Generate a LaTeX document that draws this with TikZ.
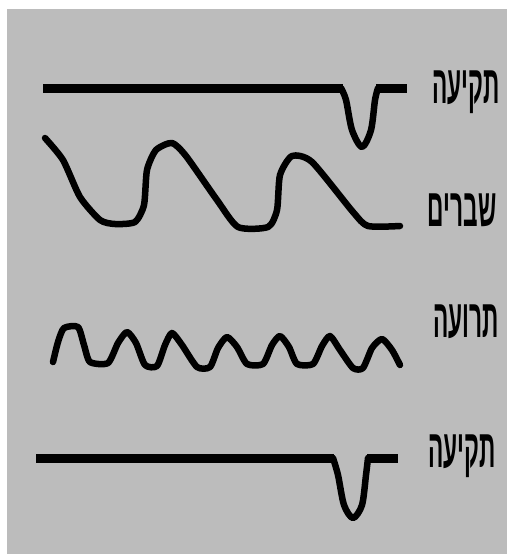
\documentclass[tikz,border=0pt]{standalone}
\usepackage{fontspec}
\newfontfamily\hebfont[Script=Hebrew]{Liberation Sans}
\TeXXeTstate=1
\definecolor{bg}{HTML}{BCBCBC}
\tikzstyle{ln}=[line width=6.5pt, line cap=round, line join=round]
\tikzstyle{flat}=[line width=9pt]
\tikzstyle{lbl}=[anchor=base, inner sep=0, font=\hebfont\bfseries\fontsize{54}{54}\selectfont]
\newcommand{\heb}[1]{\scalebox{.42}[1]{\beginR #1\endR}}

\begin{document}
\begin{tikzpicture}[x=1pt, y=-1pt]
\useasboundingbox (0,0) rectangle (507,554);
\fill[bg] (7,9) rectangle (507,554);
% tekiah
\draw[flat] (43,88)--(343,88);
\draw[flat] (376,88)--(407,88);
\draw[ln] plot[smooth, tension=.5] coordinates {(341,88) (346,100) (352,130) (362,147) (371,130) (375,100) (378,88)};
% shevarim
\draw[ln] plot[smooth, tension=.4] coordinates {(45,138) (63,160) (80,197) (100,220) (115,224) (135,222) (144,205) (147,170) (156,150) (172,143) (186,156) (217,200) (238,227) (268,227) (277,210) (280,175) (292,156) (312,162) (353,212) (368,226) (400,226)};
% teruah
\draw[ln] plot[smooth, tension=.4] coordinates {(53,362) (58,342) (64,328) (78,327) (84,345) (90,362) (108,363) (118,343) (127,332) (136,343) (145,365) (157,366) (165,345) (172,333) (182,345) (197,367) (210,367) (218,348) (227,337) (237,347) (247,364) (263,364) (272,345) (280,336) (289,347) (297,364) (313,364) (322,346) (330,336) (340,350) (353,368) (363,368) (372,348) (382,339) (392,350) (400,365)};
% tekiah
\draw[flat] (36,458)--(334,458);
\draw[flat] (367,458)--(398,458);
\draw[ln] plot[smooth, tension=.5] coordinates {(333,458) (338,475) (344,505) (353,518) (362,505) (366,475) (368,458)};
\node[lbl] (tk1) at (466,103) {\heb{תקיעה}};
\node[lbl] (sh) at (462,226) {\heb{שברים}};
\node[lbl] (tr) at (466,337) {\heb{תרועה}};
\node[lbl] (tk2) at (462,467) {\heb{תקיעה}};
\end{tikzpicture}
\end{document}
